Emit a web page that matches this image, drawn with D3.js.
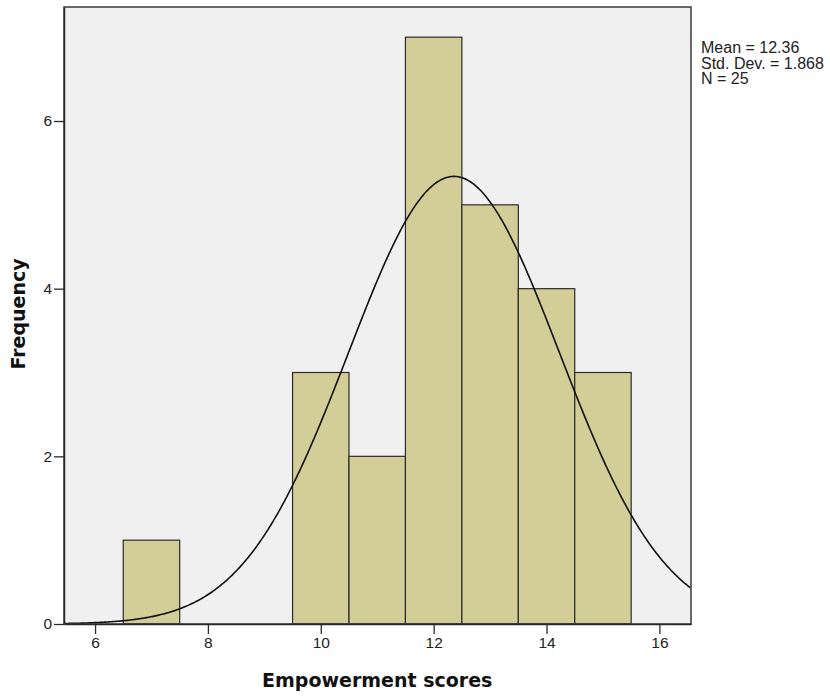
<!DOCTYPE html>
<html>
<head>
<meta charset="utf-8">
<script src="https://cdn.jsdelivr.net/npm/d3@7"></script>
<style>
  body { margin: 0; background: #fff; }
  svg { display: block; }
</style>
</head>
<body>
<svg id="chart"></svg>
<script>
// histogram bins (lower edge) and counts
const binStarts = [6.5, 9.5, 10.5, 11.5, 12.5, 13.5, 14.5];
const counts = [1, 3, 2, 7, 5, 4, 3];
const binWidth = 1;
const xTicks = [6, 8, 10, 12, 14, 16];
const yTicks = [0, 2, 4, 6];
const statLines = ['Mean = 12.36', 'Std. Dev. = 1.868', 'N = 25'];
const mean = 12.36, sd = 1.868, n = 25;

const width = 830, height = 697;
const margin = {top: 7, right: 139, bottom: 73, left: 64};
const innerW = width - margin.left - margin.right;
const innerH = height - margin.top - margin.bottom;

const svg = d3.select('#chart').attr('width', width).attr('height', height);
const chart = svg.append('g').attr('transform', `translate(${margin.left},${margin.top})`);

const x = d3.scaleLinear().domain([5.45, 16.56]).range([0, innerW]);
const y = d3.scaleLinear().domain([0, 7.36]).range([innerH, 0]);

chart.append('rect')
  .attr('width', innerW).attr('height', innerH)
  .attr('fill', '#f0f0f0');

const bins = binStarts.map((b, i) => ({x0: b, x1: b + binWidth, count: counts[i]}));

chart.selectAll('rect.bar')
  .data(bins)
  .join('rect')
  .attr('class', 'bar')
  .attr('x', d => x(d.x0))
  .attr('width', d => x(d.x1) - x(d.x0))
  .attr('y', d => y(d.count))
  .attr('height', d => y(0) - y(d.count))
  .attr('fill', '#d3ce98')
  .attr('stroke', '#2b2b2b')
  .attr('stroke-width', 1.2);

// fitted normal curve
const pdf = v => n * binWidth * Math.exp(-0.5 * ((v - mean) / sd) ** 2) / (sd * Math.sqrt(2 * Math.PI));
const curvePts = d3.range(5.45, 16.565, 0.02).map(v => [v, pdf(v)]);
chart.append('path')
  .datum(curvePts)
  .attr('fill', 'none')
  .attr('stroke', '#111')
  .attr('stroke-width', 1.6)
  .attr('d', d3.line().x(d => x(d[0])).y(d => y(d[1])));

// frame
chart.append('rect')
  .attr('width', innerW).attr('height', innerH)
  .attr('fill', 'none')
  .attr('stroke', '#3a3a3a')
  .attr('stroke-width', 1.5);

const xAxis = chart.append('g')
  .attr('transform', `translate(0,${innerH})`)
  .call(d3.axisBottom(x).tickValues(xTicks).tickSize(10).tickPadding(3).tickSizeOuter(0));
const yAxis = chart.append('g')
  .call(d3.axisLeft(y).tickValues(yTicks).tickSize(10).tickPadding(2).tickSizeOuter(0));

[xAxis, yAxis].forEach(g => {
  g.select('.domain').attr('stroke', '#2b2b2b').attr('stroke-width', 1.5);
  g.selectAll('.tick line').attr('stroke', '#2b2b2b').attr('stroke-width', 1.3);
  g.selectAll('.tick text')
    .attr('fill', '#222')
    .style('font-family', '"Liberation Sans", Arial, sans-serif')
    .style('font-size', '15.5px');
});

svg.append('text')
  .attr('x', margin.left + x(11.0))
  .attr('y', 687)
  .attr('text-anchor', 'middle')
  .style('font-family', '"DejaVu Sans", Verdana, sans-serif')
  .style('font-weight', 'bold')
  .style('font-size', '19px')
  .attr('fill', '#111')
  .text('Empowerment scores');

svg.append('text')
  .attr('transform', `translate(25,${314}) rotate(-90)`)
  .attr('text-anchor', 'middle')
  .style('font-family', '"DejaVu Sans", Verdana, sans-serif')
  .style('font-weight', 'bold')
  .style('font-size', '19px')
  .attr('fill', '#111')
  .text('Frequency');

svg.append('g')
  .selectAll('text')
  .data(statLines)
  .join('text')
  .attr('x', 701)
  .attr('y', (d, i) => 53 + i * 15.5)
  .style('font-family', '"Liberation Sans", Arial, sans-serif')
  .style('font-size', '16px')
  .attr('fill', '#222')
  .text(d => d);
</script>
</body>
</html>
